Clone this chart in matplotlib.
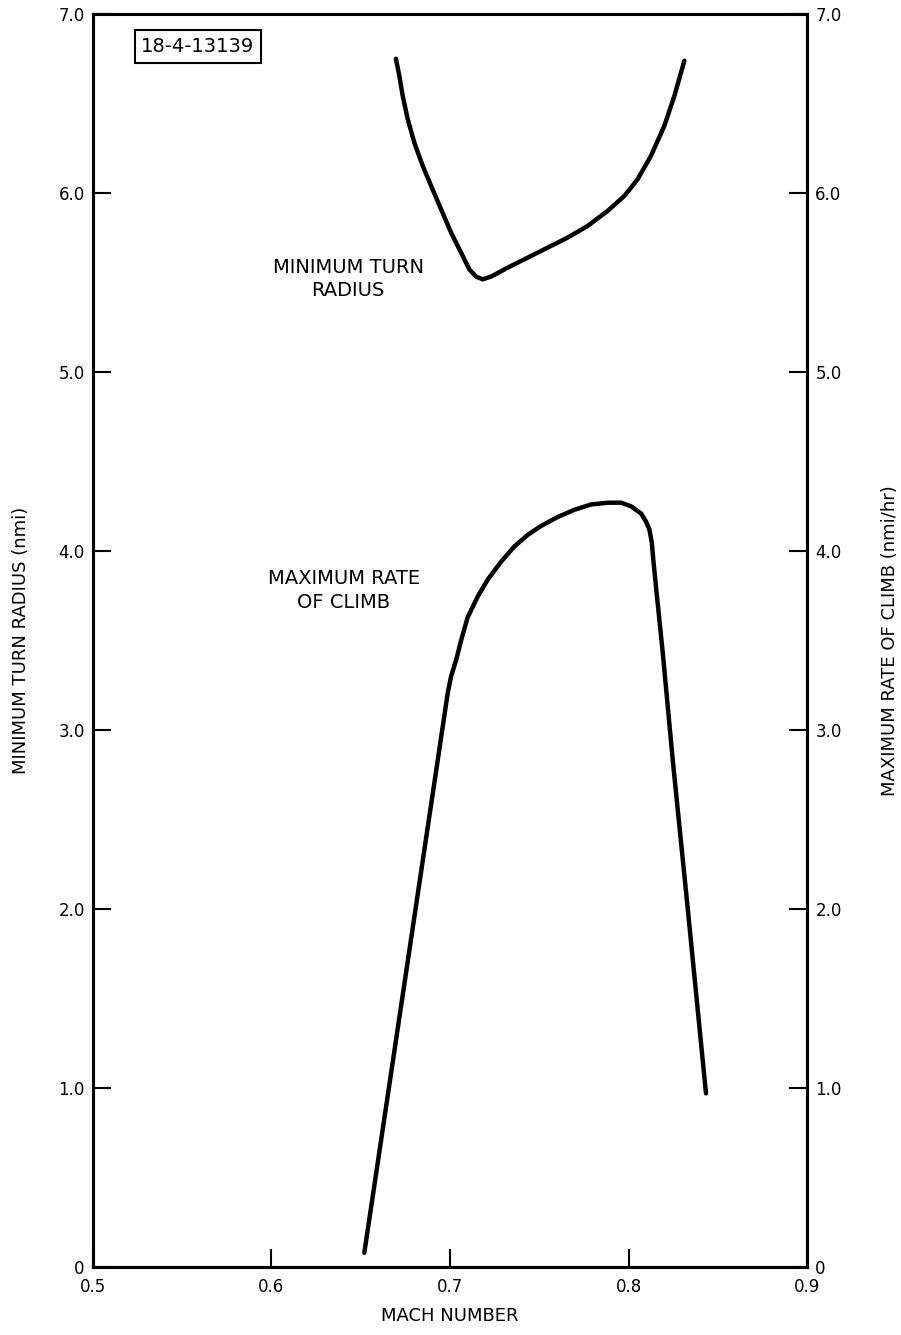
import matplotlib.pyplot as plt

# minimum turn radius curve (nmi) vs mach
mach_turn = [0.6697, 0.6716, 0.6735, 0.6763, 0.6800, 0.6847, 0.6894, 0.6950, 0.7006,
             0.7062, 0.7108, 0.7146, 0.7183, 0.7230, 0.7323, 0.7435, 0.7547, 0.7659,
             0.7771, 0.7883, 0.7977, 0.8051, 0.8126, 0.8201, 0.8257, 0.8313]
turn_radius = [6.75, 6.655, 6.543, 6.413, 6.282, 6.152, 6.040, 5.909, 5.779,
               5.667, 5.574, 5.533, 5.518, 5.533, 5.583, 5.639, 5.695, 5.751,
               5.816, 5.900, 5.984, 6.077, 6.208, 6.376, 6.543, 6.739]

# maximum rate of climb curve (nmi/hr) vs mach
mach_climb = [0.652, 0.6987, 0.7006, 0.7034, 0.7062, 0.7099, 0.7155, 0.7211, 0.7286,
              0.7360, 0.7435, 0.7510, 0.7603, 0.7696, 0.7790, 0.7883, 0.7958, 0.8014,
              0.8070, 0.8098, 0.8117, 0.8130, 0.8139, 0.8154, 0.8173, 0.8192, 0.8248,
              0.8333, 0.8434]
climb_rate = [0.08, 3.205, 3.30, 3.39, 3.50, 3.63, 3.745, 3.84, 3.94,
              4.025, 4.09, 4.14, 4.19, 4.23, 4.26, 4.27, 4.27, 4.25,
              4.21, 4.165, 4.12, 4.05, 3.95, 3.80, 3.615, 3.43, 2.83,
              1.99, 0.97]

x_ticks = [0.5, 0.6, 0.7, 0.8, 0.9]
x_labels = ['0.5', '0.6', '0.7', '0.8', '0.9']
y_ticks = [0, 1, 2, 3, 4, 5, 6, 7]
y_labels = ['0', '1.0', '2.0', '3.0', '4.0', '5.0', '6.0', '7.0']

fig = plt.figure(figsize=(9.01, 13.35), dpi=100)
ax = fig.add_axes([0.1032, 0.0509, 0.7925, 0.9386])

ax.plot(mach_turn, turn_radius, color='black', lw=3.2,
        solid_capstyle='round', solid_joinstyle='round')
ax.plot(mach_climb, climb_rate, color='black', lw=3.2,
        solid_capstyle='round', solid_joinstyle='round')

ax.set_xlim(0.5, 0.9)
ax.set_ylim(0, 7)
ax.set_xticks(x_ticks)
ax.set_xticklabels(x_labels)
ax.set_yticks(y_ticks)
ax.set_yticklabels(y_labels)
ax.tick_params(direction='in', length=13, width=1.5, labelsize=12, pad=6)
ax.tick_params(axis='x', pad=8)
for s in ax.spines.values():
    s.set_linewidth(2.2)

ax2 = ax.twinx()
ax2.set_ylim(0, 7)
ax2.set_yticks(y_ticks)
ax2.set_yticklabels(y_labels)
ax2.tick_params(direction='in', length=13, width=1.5, labelsize=12, pad=6)
for s in ax2.spines.values():
    s.set_linewidth(2.2)

ax.set_xlabel('MACH NUMBER', fontsize=13, labelpad=8)
ax.set_ylabel('MINIMUM TURN RADIUS (nmi)', fontsize=13, labelpad=20)
ax2.set_ylabel('MAXIMUM RATE OF CLIMB (nmi/hr)', fontsize=13, labelpad=28)

ax.text(0.643, 5.52, 'MINIMUM TURN\nRADIUS', fontsize=14, ha='center', va='center',
        linespacing=1.3)
ax.text(0.6406, 3.78, 'MAXIMUM RATE\nOF CLIMB', fontsize=14, ha='center', va='center',
        linespacing=1.3)

# drawing number box
ax.text(0.5588, 6.82, '18-4-13139', fontsize=14, ha='center', va='center',
        bbox=dict(boxstyle='square,pad=0.35', fc='white', ec='black', lw=1.5))

fig.savefig('out.png', dpi=100)
